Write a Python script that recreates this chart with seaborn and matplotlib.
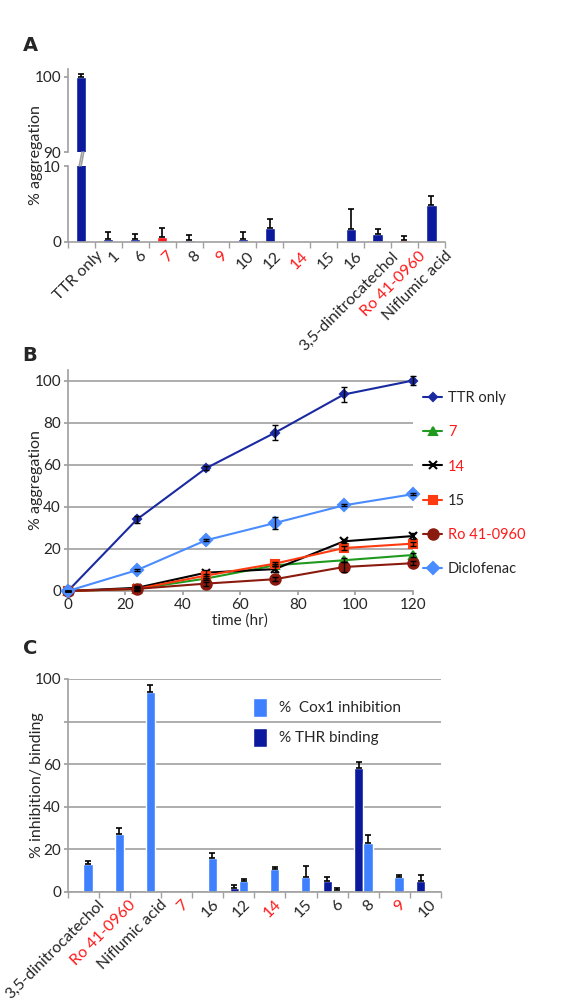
import numpy as np
import pandas as pd
import matplotlib
matplotlib.use('Agg')
import matplotlib.pyplot as plt
import matplotlib.transforms as mtransforms
import seaborn as sns
from matplotlib.ticker import FixedLocator

# ---- data: panel A (aggregation after 120 h) ----
agg_labels = ['TTR only', '1', '6', '7', '8', '9', '10', '12', '14', '15', '16',
              '3,5-dinitrocatechol', 'Ro 41-0960', 'Niflumic acid']
agg_values = [100, 0.45, 0.35, 0.7, 0.3, 0.05, 0.45, 1.9, 0.0, 0.05, 1.75, 1.05, 0.25, 4.85]
agg_err = [0.3, 0.8, 0.75, 1.15, 0.6, 0, 0.85, 1.1, 0, 0, 2.65, 0.65, 0.55, 1.25]

# ---- data: panel B (time course) ----
hours = [0, 24, 48, 72, 96, 120]
ttr_only = [0, 34.0, 58.3, 75.2, 93.4, 100.0]
ttr_only_err = [0, 1.5, 1.0, 3.5, 3.5, 2.0]
cpd7 = [0, 1.0, 5.9, 12.2, 14.6, 17.1]
cpd7_err = [0, 0.5, 0.5, 0.5, 1.0, 1.0]
cpd14 = [0, 1.5, 8.7, 10.4, 23.6, 26.1]
cpd14_err = [0, 1.0, 1.5, 1.5, 1.0, 1.5]
cpd15 = [0, 1.0, 7.3, 13.0, 20.4, 22.5]
cpd15_err = [0, 0.5, 1.0, 1.0, 1.0, 1.0]
ro41 = [0, 1.0, 3.5, 5.6, 11.4, 13.2]
ro41_err = [0, 1.0, 1.0, 1.0, 2.5, 1.0]
diclofenac = [0, 9.9, 24.1, 32.3, 40.7, 46.0]
diclofenac_err = [0, 0.5, 0.5, 3.0, 0.5, 0.5]

# ---- data: panel C (Cox1 inhibition / THR binding) ----
sel_labels = ['3,5-dinitrocatechol', 'Ro 41-0960', 'Niflumic acid', '7', '16', '12',
              '14', '15', '6', '8', '9', '10']
cox1 = [13, 27, 94, 0, 16, 5, 11, 7, 1, 23, 7, 0]
cox1_err = [1.6, 3.0, 3.0, 0, 2.4, 1.1, 0.9, 5.0, 1.1, 3.6, 1.0, 0]
thr = [0, 0, 0, 0, 0, 2, 0, 0, 5, 58, 0, 5]
thr_err = [0, 0, 0, 0, 0, 1.1, 0, 0, 1.9, 2.8, 0, 3.1]

red_names = {'7', '9', '14', 'Ro 41-0960'}
red_bars = {'7', 'Ro 41-0960'}

DARK = '#0b1a9c'
LIGHT = '#3f80ff'
RED = '#ff1a1a'
GRAY = '#a0a0a0'

sns.set_theme(style='white')
plt.rcParams['font.family'] = ['Lato', 'DejaVu Sans']
plt.rcParams['font.size'] = 10.5

fig = plt.figure(figsize=(5.66, 10.02), dpi=100)


def style_axes(ax):
    for s in ['top', 'right']:
        ax.spines[s].set_visible(False)
    for s in ['left', 'bottom']:
        ax.spines[s].set_color(GRAY)
        ax.spines[s].set_linewidth(1.2)
    ax.tick_params(axis='y', length=3, color=GRAY, labelsize=11, pad=2, left=True)
    ax.set_xlabel('')
    ax.set_ylabel('')


def cat_ticks(ax, labels, pad):
    n = len(labels)
    ax.set_xticks(range(n))
    ax.set_xticklabels(labels, rotation=45, ha='right', va='top',
                       rotation_mode='anchor', fontsize=11.5)
    ax.tick_params(axis='x', which='major', length=0, pad=pad)
    ax.xaxis.set_minor_locator(FixedLocator(np.arange(-0.5, n, 1.0)))
    ax.tick_params(axis='x', which='minor', length=4, color=GRAY, bottom=True)
    for t in ax.get_xticklabels():
        # long labels sit further right, like the Excel original
        shift_px = 14 if len(t.get_text()) > 3 else 4
        offset = mtransforms.ScaledTranslation(shift_px / 100, 0, fig.dpi_scale_trans)
        t.set_transform(t.get_transform() + offset)
        if t.get_text() in red_names:
            t.set_color(RED)


def up_errors(ax, bars, errs):
    for bar, e in zip(bars, errs):
        if e <= 0:
            continue
        x = bar.get_x() + bar.get_width() / 2
        y = bar.get_height()
        ax.errorbar(x, y, yerr=[[0], [e]], color='black', capsize=2.5, elinewidth=1.2,
                    capthick=1.2, fmt='none', zorder=5)


# ================= Panel A (broken axis) =================
ax_hi = fig.add_axes([0.120, 0.8483, 0.666, 0.0828])
ax_lo = fig.add_axes([0.120, 0.7585, 0.666, 0.0758])
dfa = pd.DataFrame({'compound': agg_labels, 'value': agg_values})
bar_pal = {c: (RED if c in red_bars else DARK) for c in agg_labels}
for ax in (ax_hi, ax_lo):
    sns.barplot(data=dfa, x='compound', y='value', hue='compound', palette=bar_pal,
                width=0.38, legend=False, saturation=1, ax=ax)
    style_axes(ax)
    up_errors(ax, [c.patches[0] for c in ax.containers], agg_err)
ax_hi.set_ylim(90, 101)
ax_hi.set_yticks([90, 100])
ax_hi.spines['bottom'].set_visible(False)
ax_hi.tick_params(axis='x', which='both', bottom=False, labelbottom=False)
ax_lo.set_ylim(0, 10)
ax_lo.set_yticks([0, 10])
cat_ticks(ax_lo, agg_labels, pad=5)
ax_lo.set_xlim(-0.5, len(agg_labels) - 0.5)
ax_hi.set_xlim(-0.5, len(agg_labels) - 0.5)
# break marks on the TTR bar
for dx in (0.0, 0.07):
    ax_lo.plot([-0.08 + dx, 0.02 + dx], [10.0, 11.85], color=GRAY, lw=1.2, clip_on=False, zorder=6)
fig.text(0.064, 0.845, '% aggregation', rotation=90, ha='center', va='center', fontsize=11.5)
fig.text(0.04, 0.955, 'A', fontsize=14, fontweight='bold', va='center', family='DejaVu Sans')

# ================= Panel B (time course) =================
axb = fig.add_axes([0.120, 0.4102, 0.6095, 0.2205])
series = [
    ('TTR only', ttr_only, ttr_only_err, '#1a2aa0', 'D', 4.5),
    ('7', cpd7, cpd7_err, '#1f9a1f', '^', 5.5),
    ('14', cpd14, cpd14_err, 'black', 'x', 5.5),
    ('15', cpd15, cpd15_err, '#ff3a10', 's', 5.5),
    ('Ro 41-0960', ro41, ro41_err, '#8b1a0e', 'o', 7.5),
    ('Diclofenac', diclofenac, diclofenac_err, '#4a8cff', 'D', 6),
]
for name, vals, errs, col, mk, ms in series:
    sns.lineplot(x=hours, y=vals, ax=axb, color=col, marker=mk, markersize=ms,
                 markeredgecolor=col, markerfacecolor=col, markeredgewidth=1.5,
                 linewidth=1.5, label=name, clip_on=False, zorder=3)
    axb.errorbar(hours, vals, yerr=errs, fmt='none', ecolor='black', elinewidth=1,
                 capsize=2.5, capthick=1, zorder=4, clip_on=False)
style_axes(axb)
axb.set_xlim(0, 120)
axb.set_ylim(0, 105)
axb.set_xticks(range(0, 121, 20))
axb.set_yticks(range(0, 101, 20))
axb.yaxis.grid(True, color=GRAY, lw=1.2)
axb.tick_params(axis='x', length=3, color=GRAY, labelsize=11, bottom=True, pad=2)
axb.set_xlabel('time (hr)', fontsize=11, labelpad=1)
axb.set_ylabel('% aggregation', fontsize=11.5)
axb.yaxis.set_label_coords(-0.073, 0.5)
leg = axb.legend(loc='upper left', bbox_to_anchor=(1.0, 0.95), frameon=False,
                 labelspacing=1.38, handlelength=1.3, handletextpad=0.4, fontsize=10.5,
                 borderaxespad=0.3)
for t in leg.get_texts():
    if t.get_text() in red_names:
        t.set_color(RED)
fig.text(0.04, 0.645, 'B', fontsize=14, fontweight='bold', va='center', family='DejaVu Sans')

# ================= Panel C (Cox1 / THR) =================
axc = fig.add_axes([0.120, 0.1098, 0.659, 0.2126])
dfc = pd.DataFrame({
    'compound': sel_labels * 2,
    'value': thr + cox1,
    'assay': ['% THR binding'] * len(sel_labels) + ['%  Cox1 inhibition'] * len(sel_labels),
})
sns.barplot(data=dfc, x='compound', y='value', hue='assay',
            hue_order=['% THR binding', '%  Cox1 inhibition'],
            palette={'% THR binding': DARK, '%  Cox1 inhibition': LIGHT},
            width=0.6, saturation=1, ax=axc)
up_errors(axc, axc.containers[0].patches, thr_err)
up_errors(axc, axc.containers[1].patches, cox1_err)
style_axes(axc)
axc.set_ylim(0, 100)
axc.set_yticks(range(0, 101, 20))
axc.set_yticklabels(['0', '20', '40', '60', '', '100'])
axc.yaxis.grid(True, color=GRAY, lw=1.2)
axc.set_axisbelow(True)
cat_ticks(axc, sel_labels, pad=4)
axc.set_xlim(-0.5, len(sel_labels) - 0.5)
axc.set_ylabel('% inhibition/ binding', fontsize=11.5)
axc.yaxis.set_label_coords(-0.064, 0.5)
h, l = axc.get_legend_handles_labels()
legc = axc.legend(h[::-1], l[::-1], loc='upper left', bbox_to_anchor=(0.46, 0.975),
                  frameon=False, handlelength=0.9, handleheight=1.5, labelspacing=0.75,
                  handletextpad=0.8, fontsize=11)
fig.text(0.04, 0.353, 'C', fontsize=14, fontweight='bold', va='center', family='DejaVu Sans')

fig.savefig('out.png', dpi=100)
